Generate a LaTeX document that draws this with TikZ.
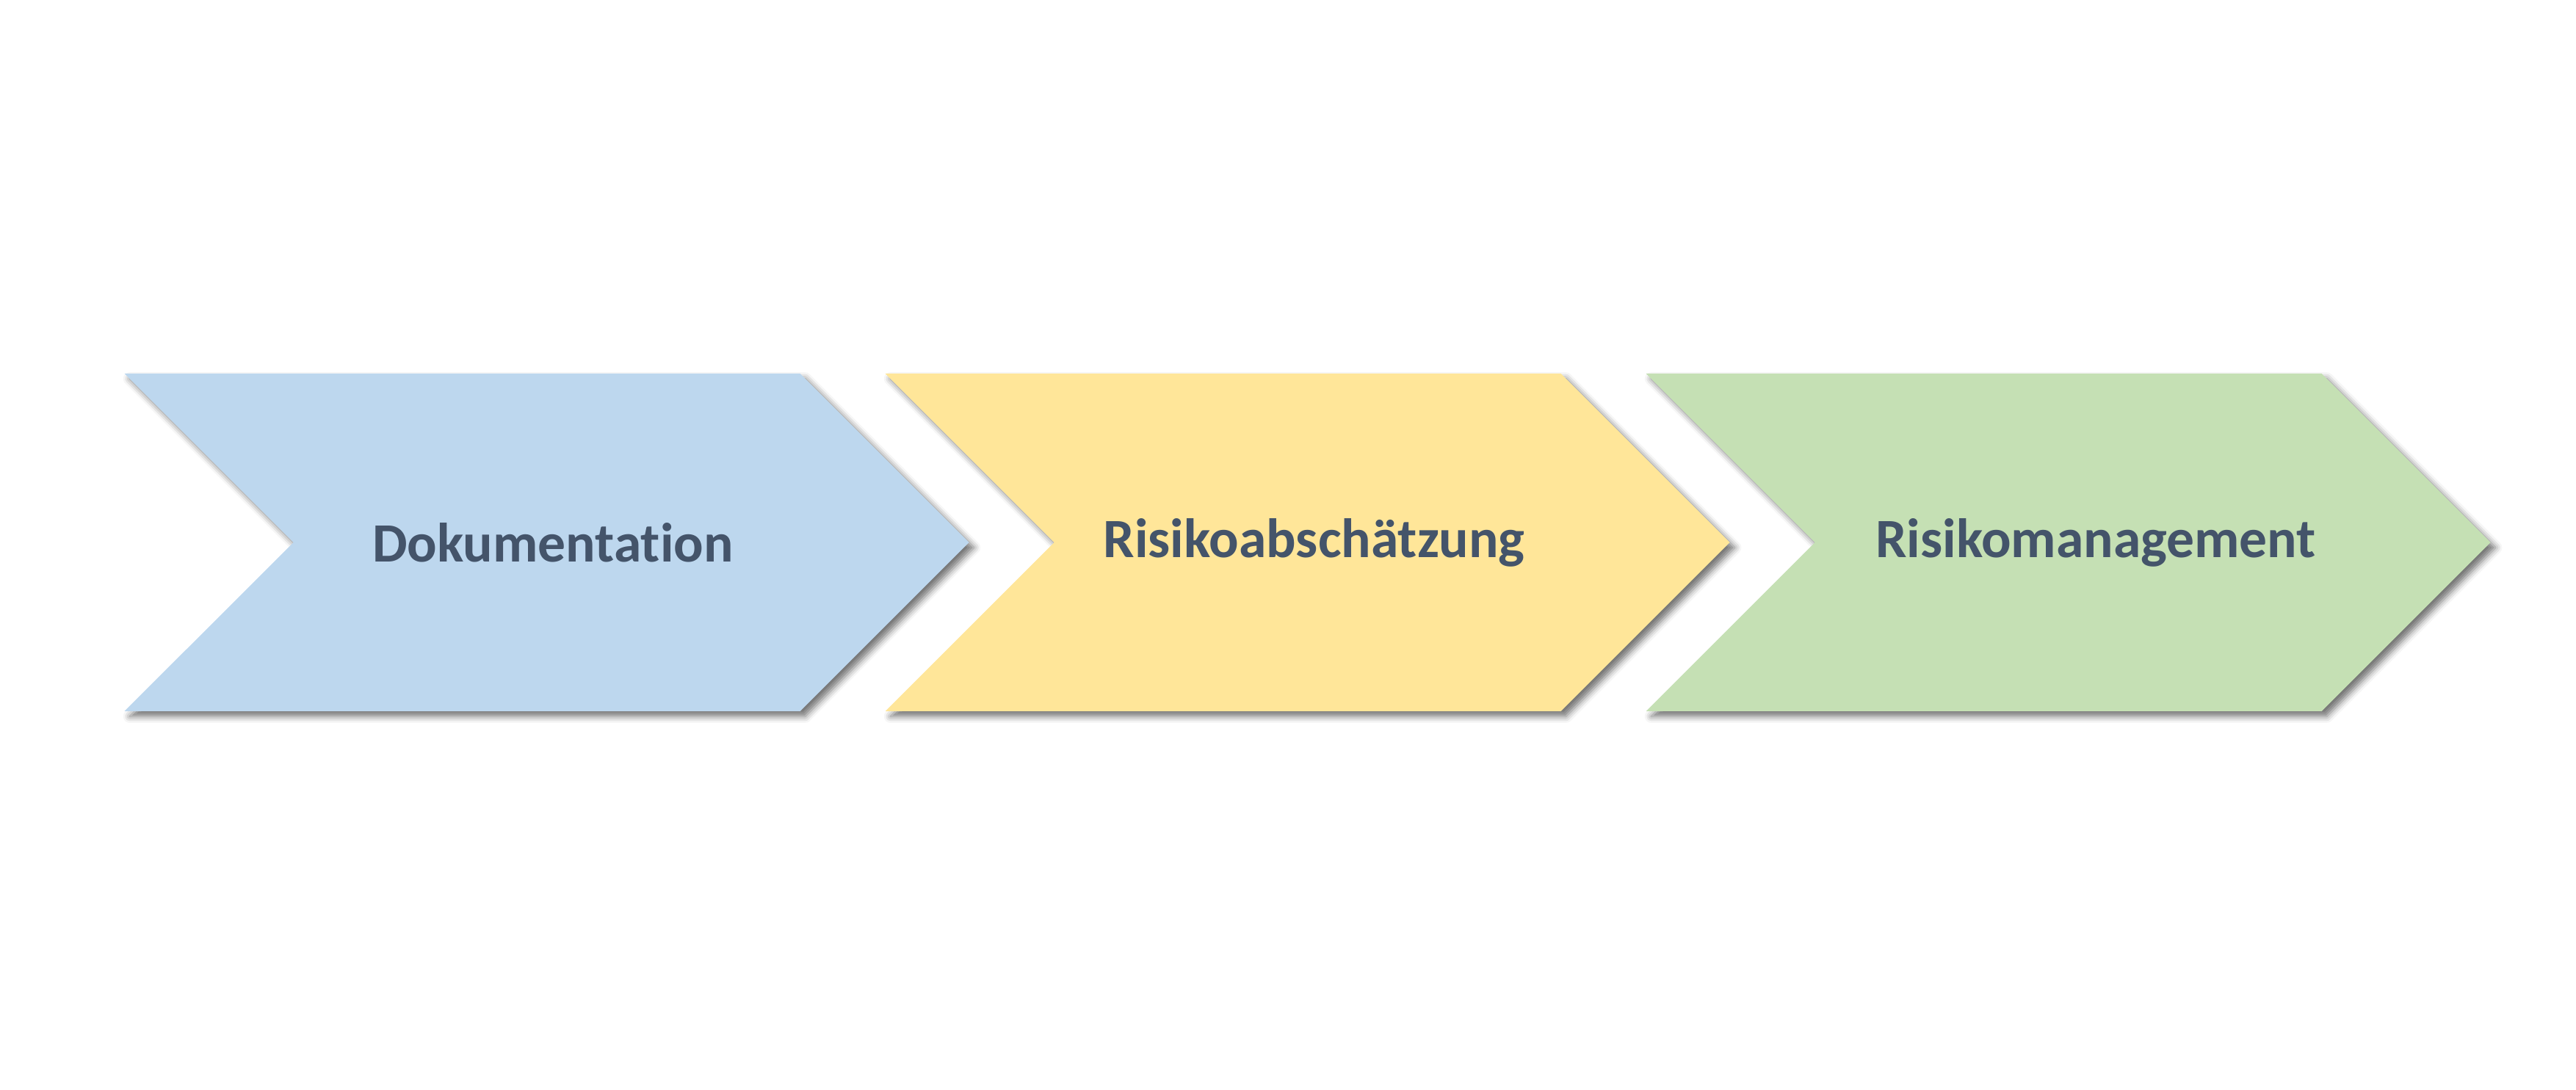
\documentclass[tikz,border=0pt]{standalone}
\usepackage{fontspec}
\setmainfont{Carlito}[Ligatures=NoCommon]
\usetikzlibrary{shapes.symbols,shadows.blur}
\definecolor{docblue}{HTML}{BDD7EE}
\definecolor{riskyellow}{HTML}{FFE699}
\definecolor{mgmtgreen}{HTML}{C5E0B4}
\definecolor{labelgray}{HTML}{44546A}
\tikzset{
  stepchevron/.style={signal, signal from=west, signal to=east, signal pointer angle=90,
    minimum width=11.5cm, minimum height=4.6cm, inner sep=0pt, outer sep=0pt,
    blur shadow={shadow xshift=2pt, shadow yshift=-2pt, shadow blur radius=2.5pt, shadow opacity=55}},
  steplabel/.style={text=labelgray, font=\fontsize{21.5}{26}\selectfont\bfseries, inner sep=0pt}
}
\begin{document}
\begin{tikzpicture}
                    \useasboundingbox (0,0) rectangle (35.08,14.84);
                    \node[stepchevron,fill=docblue] (doku) at (7.445,7.45) {};
                    \node[stepchevron,fill=riskyellow] (risk) at (17.805,7.45) {};
                    \node[stepchevron,fill=mgmtgreen] (mgmt) at (28.165,7.45) {};
                    \node[steplabel] (dokutext) at ([xshift=0.085cm]doku.center) {Dokumentation};
                    \node[steplabel] (risktext) at ([xshift=0.09cm]risk.center) {Risikoabschätzung};
                    \node[steplabel] (mgmttext) at ([xshift=0.375cm]mgmt.center) {Risikomanagement};
                \end{tikzpicture}
\end{document}
